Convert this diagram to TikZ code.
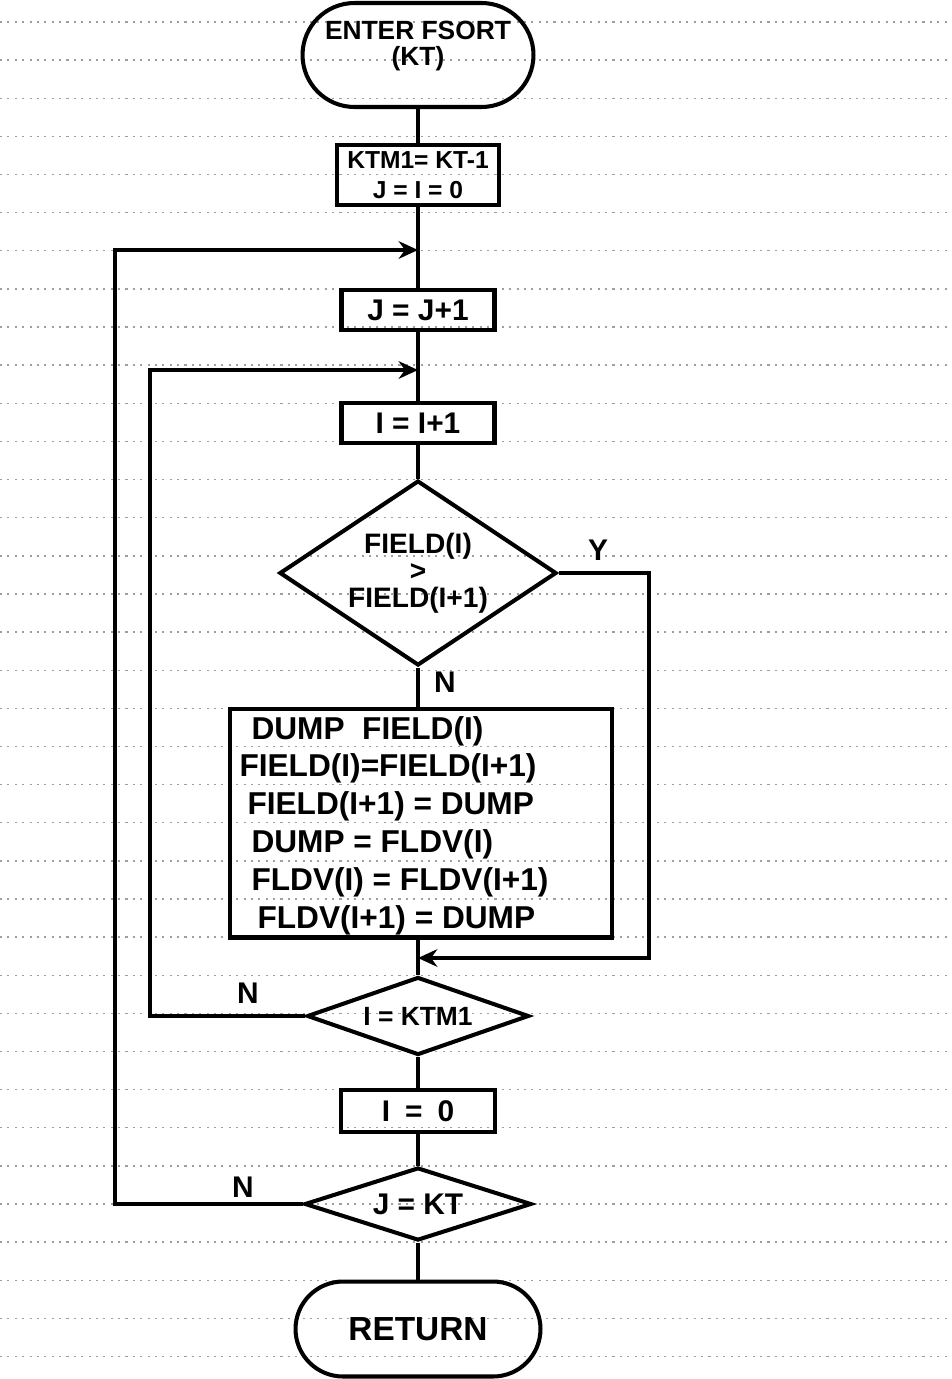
\documentclass[tikz,border=0pt]{standalone}
\usepackage{fontspec}
\setmainfont{Liberation Sans}
\usetikzlibrary{shapes.geometric,arrows.meta,calc}
\begin{document}
\begin{tikzpicture}[x=0.02cm,y=-0.02cm,
  conn/.style={line width=2.3pt},
  arr/.style={conn,-{Stealth[length=11pt,width=10pt]}},
  txt/.style={font=\fontsize{17}{18}\selectfont\bfseries},
  flow/.style={draw,line width=2.3pt,txt},
  term/.style={flow,rectangle,align=center,inner sep=0pt},
  procbox/.style={flow,rectangle,align=center,inner sep=0pt},
  decision/.style={flow,diamond,align=center,inner sep=0pt},
  lbl/.style={txt,inner sep=0pt},
  ruling/.style={black!38,line width=0.8pt,dash pattern=on 1.2pt off 3pt}
]
\useasboundingbox (0,0) rectangle (951,1379);
\foreach \k in {0,...,35} \draw[ruling] (0,{22+38.13*\k}) -- (951,{22+38.13*\k});

\node[term,minimum width=4.62cm,minimum height=2.08cm,rounded corners=1.04cm] (start) at (418,55)
  {\raisebox{0.04cm}[0pt][0pt]{\fontsize{15}{13.5}\selectfont\bfseries\begin{tabular}{@{}c@{}}ENTER FSORT\\(KT)\end{tabular}}};
\node[procbox,minimum width=3.24cm,minimum height=1.2cm,font=\fontsize{14}{17}\selectfont\bfseries] (b1) at (418,175) {KTM1= KT-1\\J = I = 0};
\node[procbox,minimum width=3.06cm,minimum height=0.8cm] (b2) at (418,310) {J = J+1};
\node[procbox,minimum width=3.06cm,minimum height=0.8cm] (b3) at (418,423) {I = I+1};
\node[decision,minimum width=5.54cm,minimum height=3.7cm,aspect=1.5,font=\fontsize{16}{15.3}\selectfont\bfseries] (d1) at (418,573) {FIELD(I)\\>\\FIELD(I+1)};
\node[procbox,minimum width=7.66cm,minimum height=4.58cm,font=\fontsize{18}{21.5}\selectfont\bfseries] (big) at (421,823)
  {\raisebox{-0.2cm}[0pt][0pt]{\parbox{7.26cm}{\raggedright
   \hspace*{0.24cm}DUMP\ \ FIELD(I)\\
   FIELD(I)=FIELD(I+1)\\
   \hspace*{0.16cm}FIELD(I+1) = DUMP\\
   \hspace*{0.24cm}DUMP = FLDV(I)\\
   \hspace*{0.24cm}FLDV(I) = FLDV(I+1)\\
   \hspace*{0.36cm}FLDV(I+1) = DUMP}}};
\node[decision,minimum width=4.44cm,minimum height=1.56cm,aspect=2.85,font=\fontsize{15}{18}\selectfont\bfseries] (d2) at (418,1016) {I = KTM1};
\node[procbox,minimum width=3.08cm,minimum height=0.84cm] (b0) at (418,1111) {I\enspace=\enspace0};
\node[decision,minimum width=4.54cm,minimum height=1.46cm,aspect=3.1] (d3) at (418,1204) {J = KT};
\node[term,minimum width=4.9cm,minimum height=1.9cm,rounded corners=0.95cm,font=\fontsize{19}{20}\selectfont\bfseries] (ret) at (418,1329) {RETURN};

\coordinate (yc1) at (649,573);
\coordinate (yc2) at (649,958);
\coordinate (na) at (150,1016);
\coordinate (nb) at (150,370);
\coordinate (ma) at (115,1204);
\coordinate (mb) at (115,250);

\draw[conn] (start.south) -- (b1.north);
\draw[conn] (b1.south) -- (b2.north);
\draw[conn] (b2.south) -- (b3.north);
\draw[conn] (b3.south) -- (d1.north);
\draw[conn] (d1.south) -- (d1.south |- big.north);
\draw[conn] (d2.north |- big.south) -- (d2.north);
\draw[conn] (d2.south) -- (b0.north);
\draw[conn] (b0.south) -- (d3.north);
\draw[conn] (d3.south) -- (ret.north);
\draw[arr] (d1.east) -- (yc1) -- (yc2) -- (yc2 -| d2.north);
\draw[arr] (d2.west) -- (na) -- (nb) -- (nb -| b2.south);
\draw[arr] (d3.west) -- (ma) -- (mb) -- (mb -| b1.south);

\node[lbl] (ly) at (598,550) {Y};
\node[lbl] (ln1) at (445,682) {N};
\node[lbl] (ln2) at (248,993) {N};
\node[lbl] (ln3) at (243,1187) {N};
\end{tikzpicture}
\end{document}
